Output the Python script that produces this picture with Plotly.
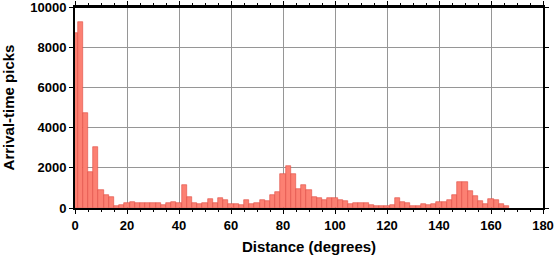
import plotly.graph_objects as go

distance_deg = list(range(0, 168, 2))
picks = [8700, 9250, 4750, 1780, 3050, 880, 640, 550, 100, 165,
         265, 300, 250, 250, 230, 230, 230, 165, 265, 300,
         240, 1130, 550, 250, 200, 250, 430, 250, 500, 380,
         200, 200, 150, 400, 210, 265, 400, 350, 650, 800,
         1690, 2080, 1690, 930, 1140, 900, 550, 500, 380, 500,
         480, 400, 330, 200, 265, 265, 265, 150, 100, 100,
         100, 150, 510, 290, 240, 100, 100, 200, 160, 210,
         300, 290, 400, 630, 1280, 1280, 840, 580, 340, 210,
         440, 410, 190, 90]
bin_width = 2

fig = go.Figure()
fig.add_trace(go.Bar(
    x=distance_deg, y=picks, width=[bin_width] * len(distance_deg),
    marker=dict(color="rgb(252,128,114)", line=dict(color="rgb(225,75,65)", width=0.6)),
))

font_family = "Liberation Sans, Arial, sans-serif"
fig.update_layout(
    width=555, height=258,
    margin=dict(l=75, r=12, t=7, b=50, autoexpand=False),
    paper_bgcolor="white", plot_bgcolor="white",
    bargap=0, showlegend=False,
    font=dict(family=font_family, size=13, color="black"),
)
fig.update_xaxes(
    range=[0, 180], dtick=20, tick0=0, automargin=False,
    showline=True, linecolor="black", linewidth=2, mirror="ticks",
    ticks="outside", ticklen=4, tickwidth=1, tickcolor="black",
    showgrid=True, gridcolor="rgb(150,150,150)", gridwidth=1,
    zeroline=False, ticklabeloverflow="allow",
    tickfont=dict(family=font_family, size=13, color="black", weight="bold"),
    title=dict(text="<b>Distance (degrees)</b>", font=dict(family=font_family, size=15), standoff=10),
    minor=dict(dtick=5, ticks="outside", ticklen=2, tickcolor="black", showgrid=False),
)
fig.update_yaxes(
    range=[0, 10000], dtick=2000, tick0=0, tickformat="d", automargin=False,
    showline=True, linecolor="black", linewidth=2, mirror="ticks",
    ticks="outside", ticklen=4, tickwidth=1, tickcolor="black",
    showgrid=True, gridcolor="rgb(150,150,150)", gridwidth=1,
    zeroline=False, ticklabeloverflow="allow",
    tickfont=dict(family=font_family, size=13, color="black", weight="bold"),
    title=dict(text="<b>Arrival-time picks</b>", font=dict(family=font_family, size=15), standoff=12),
)
fig.add_shape(type="line", xref="paper", yref="paper", x0=0, x1=1, y0=1, y1=1,
              line=dict(color="black", width=2), layer="above")

fig.write_html("out.html")
